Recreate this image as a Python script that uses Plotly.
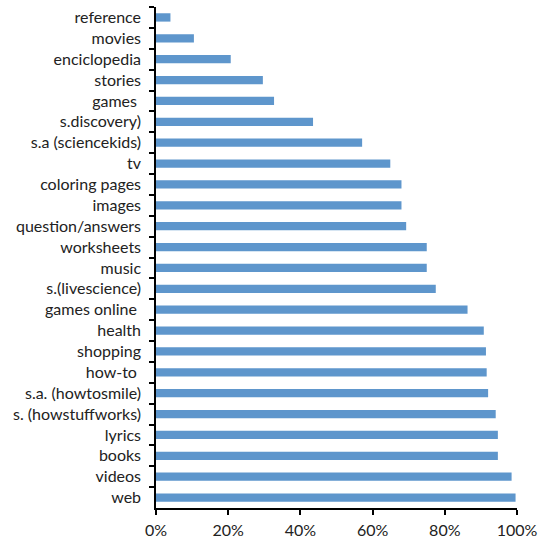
import plotly.graph_objects as go

categories = [
    "reference", "movies", "enciclopedia", "stories", "games ", "s.discovery)",
    "s.a (sciencekids)", "tv", "coloring pages", "images", "question/answers",
    "worksheets", "music", "s.(livescience)", "games online ", "health", "shopping",
    "how-to ", "s.a. (howtosmile)", "s. (howstuffworks)", "lyrics", "books",
    "videos", "web",
]
values = [
    4.0, 10.5, 20.7, 29.6, 32.7, 43.5,
    57.1, 64.9, 68.0, 68.0, 69.3,
    75.0, 75.0, 77.5, 86.3, 90.8, 91.4,
    91.6, 92.0, 94.1, 94.7, 94.7,
    98.5, 99.6,
]
x_ticks = [0, 20, 40, 60, 80, 100]
x_tick_labels = ["0%", "20%", "40%", "60%", "80%", "100%"]

font_family = "Lato, 'Open Sans', sans-serif"

fig = go.Figure(
    go.Bar(
        x=values,
        y=categories,
        orientation="h",
        marker=dict(color="#5E96CC", line=dict(width=0)),
        width=0.4,
    )
)

fig.update_layout(
    width=538,
    height=539,
    margin=dict(l=156, r=21, t=7, b=31, autoexpand=False),
    paper_bgcolor="white",
    plot_bgcolor="white",
    showlegend=False,
    font=dict(family=font_family, size=16, color="#222222"),
)

fig.update_xaxes(
    range=[0, 100],
    tickvals=x_ticks,
    ticktext=x_tick_labels,
    showgrid=False,
    zeroline=False,
    showline=True,
    linecolor="black",
    linewidth=1.5,
    ticks="outside",
    ticklen=5,
    tickwidth=1.5,
    tickcolor="black",
    ticklabelstandoff=2,
    automargin=False,
    fixedrange=True,
)

fig.update_yaxes(
    categoryorder="array",
    categoryarray=categories,
    autorange="reversed",
    showgrid=False,
    zeroline=False,
    showline=True,
    linecolor="black",
    linewidth=1.5,
    ticks="outside",
    tickson="boundaries",
    ticklen=5,
    tickwidth=1.5,
    tickcolor="black",
    ticklabelstandoff=10,
    automargin=False,
    fixedrange=True,
)

fig.write_html("out.html", config={"displayModeBar": False})
